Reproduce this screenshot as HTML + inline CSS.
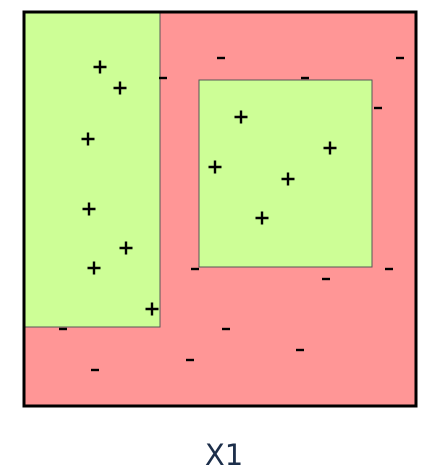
<!DOCTYPE html>
<html><head><meta charset="utf-8"><style>
html,body{margin:0;padding:0;background:#fff;}
svg{display:block;}
</style></head><body>
<svg id="chart" width="446" height="472" viewBox="0 0 446 472" xmlns="http://www.w3.org/2000/svg">
<rect x="24" y="12" width="392" height="394" fill="#ff9696"/>
<g id="regions"></g>
<g id="points"></g>
<rect x="24" y="12" width="392" height="394" fill="none" stroke="#000" stroke-width="3"/>
<text x="224" y="465" text-anchor="middle" font-family="DejaVu Sans, sans-serif" font-size="29" fill="#1c2e4a">X1</text>
</svg>
<script>
// data domain: x 0..392, y 0..394 (top = 0)
const regionX0 = [0, 175];
const regionX1 = [136, 348];
const regionY0 = [0, 68];
const regionY1 = [315, 255];
const plusX = [76, 96, 64, 65, 102, 70, 128, 217, 191, 306, 264, 238];
const plusY = [55, 76, 127, 197, 236, 256, 297, 105, 155, 136, 167, 206];
const minusX = [197, 376, 139, 281, 354, 171, 365, 302, 39, 202, 276, 166, 71];
const minusY = [46, 46, 66, 66, 96, 257, 257, 267, 317, 317, 338, 348, 358];
const sx = v => 24 + v;
const sy = v => 12 + v;
const NS = 'http://www.w3.org/2000/svg';
const rg = document.getElementById('regions');
for (let i = 0; i < regionX0.length; i++) {
  const r = document.createElementNS(NS, 'rect');
  r.setAttribute('x', sx(regionX0[i]));
  r.setAttribute('y', sy(regionY0[i]));
  r.setAttribute('width', sx(regionX1[i]) - sx(regionX0[i]));
  r.setAttribute('height', sy(regionY1[i]) - sy(regionY0[i]));
  r.setAttribute('fill', '#cdfe96');
  r.setAttribute('stroke', '#555');
  r.setAttribute('stroke-width', '1');
  
  
  rg.appendChild(r);
}
const pg = document.getElementById('points');
for (let i = 0; i < plusX.length; i++) {
  const x = sx(plusX[i]), y = sy(plusY[i]);
  const p = document.createElementNS(NS, 'path');
  p.setAttribute('d', `M${x-6.5} ${y}H${x+6.5}M${x} ${y-6.5}V${y+6.5}`);
  p.setAttribute('stroke', '#000');
  p.setAttribute('stroke-width', '2.4');
  
  
  pg.appendChild(p);
}
for (let i = 0; i < minusX.length; i++) {
  const x = sx(minusX[i]), y = sy(minusY[i]);
  const p = document.createElementNS(NS, 'path');
  p.setAttribute('d', `M${x-4} ${y}H${x+4}`);
  p.setAttribute('stroke', '#000');
  p.setAttribute('stroke-width', '2.4');
  
  
  pg.appendChild(p);
}
</script>
</body></html>
